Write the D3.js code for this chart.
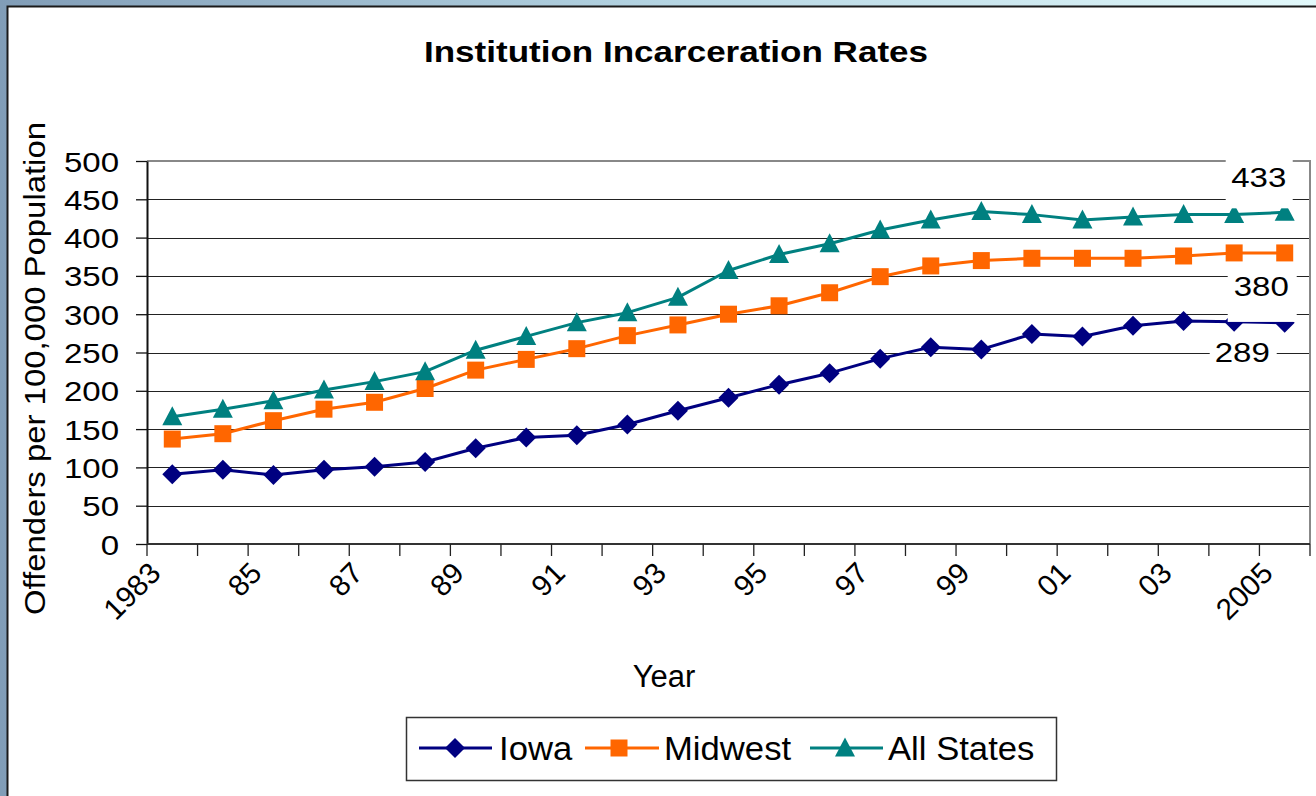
<!DOCTYPE html>
<html>
<head>
<meta charset="utf-8">
<script src="https://cdn.jsdelivr.net/npm/d3@7"></script>
<style>
  html, body { margin: 0; padding: 0; background: #fff; }
  svg { display: block; }
  text { font-family: "Liberation Sans", Arial, Helvetica, sans-serif; fill: #000; }
</style>
</head>
<body>
<svg id="chart" width="1316" height="796"></svg>
<script>
// ---------------- data ----------------
const years = ["1983","1984","1985","1986","1987","1988","1989","1990","1991","1992","1993","1994",
               "1995","1996","1997","1998","1999","2000","2001","2002","2003","2004","2005"];
const xTickLabels = ["1983","85","87","89","91","93","95","97","99","01","03","2005"];
const xTickYears  = ["1983","1985","1987","1989","1991","1993","1995","1997","1999","2001","2003","2005"];
const yTicks = [0,50,100,150,200,250,300,350,400,450,500];

const iowa      = [91, 97, 90, 97, 101, 107, 125, 139, 142, 156, 174, 191, 208, 223, 242, 257, 254, 274, 271, 285, 291, 290, 289];
const midwest   = [137, 144, 161, 176, 185, 203, 227, 241, 255, 272, 286, 300, 311, 328, 349, 363, 370, 373, 373, 373, 376, 380, 380];
const allStates = [166, 176, 187, 201, 212, 225, 253, 271, 289, 302, 322, 357, 378, 392, 410, 423, 434, 430, 423, 427, 430, 430, 433];

const seriesNames = ["Iowa","Midwest","All States"];
const seriesData  = [iowa, midwest, allStates];
const seriesColors = ["#000080","#FF6600","#008080"];
const seriesMarkers = ["diamond","square","triangle"];

// ---------------- layout ----------------
const svg = d3.select("#chart");
const W = 1316, H = 796;
const plot = {left:147, right:1310, top:161, bottom:544};

const x = d3.scaleBand().domain(years).range([plot.left, plot.right]).padding(0);
const y = d3.scaleLinear().domain([0,500]).range([plot.bottom, plot.top]);
const cx = d => x(d) + x.bandwidth()/2;

function stretch(sel, f){
  sel.each(function(){
    const L = this.getComputedTextLength();
    d3.select(this).attr("textLength", L*f).attr("lengthAdjust","spacingAndGlyphs");
  });
}

// background gradient (slide)
const defs = svg.append("defs");
const grad = defs.append("linearGradient").attr("id","bg").attr("x1","0").attr("y1","0").attr("x2","1").attr("y2","0");
grad.append("stop").attr("offset","0%").attr("stop-color","#819db7");
grad.append("stop").attr("offset","50%").attr("stop-color","#b4d4e2");
grad.append("stop").attr("offset","100%").attr("stop-color","#e2f9fb");
svg.append("rect").attr("x",0).attr("y",0).attr("width",W).attr("height",H).attr("fill","url(#bg)");

// chart area
svg.append("rect").attr("x",7.5).attr("y",6.5).attr("width",W+20).attr("height",H+20)
  .attr("fill","#fff").attr("stroke","#1a1a1a").attr("stroke-width",2);

// title
const title = svg.append("text").attr("x",676).attr("y",62).attr("text-anchor","middle")
  .attr("font-size",30).attr("font-weight","bold").text("Institution Incarceration Rates");
title.attr("textLength",504).attr("lengthAdjust","spacingAndGlyphs");

// gridlines
svg.append("g").selectAll("line").data(yTicks.filter(v => v > 0 && v < 500)).join("line")
  .attr("x1",plot.left).attr("x2",plot.right)
  .attr("y1",d => Math.round(y(d))+0.5).attr("y2",d => Math.round(y(d))+0.5)
  .attr("stroke","#222").attr("stroke-width",1.2);

// plot border top & right (gray)
svg.append("path")
  .attr("d",`M${plot.left},${plot.top}H${plot.right}V${plot.bottom}`)
  .attr("fill","none").attr("stroke","#888").attr("stroke-width",2);

// y axis
const yAxis = svg.append("g").attr("transform",`translate(${plot.left},0)`)
  .call(d3.axisLeft(y).tickValues(yTicks).tickSize(11).tickSizeOuter(0).tickPadding(28));
yAxis.select(".domain").attr("stroke","#111").attr("stroke-width",2);
yAxis.selectAll(".tick line").attr("stroke","#111").attr("stroke-width",1.3);
yAxis.selectAll(".tick text").attr("font-size",28).attr("font-family",null).attr("fill","#000")
  .attr("x",-28).attr("dy","0.36em");
stretch(yAxis.selectAll(".tick text"), 1.18);

// x axis line + ticks at category boundaries
const xBounds = years.map(d => x(d)).concat([plot.right]);
svg.append("line").attr("x1",plot.left).attr("x2",plot.right).attr("y1",plot.bottom).attr("y2",plot.bottom)
  .attr("stroke","#333").attr("stroke-width",2);
svg.append("g").selectAll("line").data(xBounds).join("line")
  .attr("x1",d => d).attr("x2",d => d).attr("y1",plot.bottom).attr("y2",plot.bottom+12)
  .attr("stroke","#222").attr("stroke-width",1.3);

// x tick labels (rotated)
svg.append("g").selectAll("text").data(xTickYears).join("text")
  .attr("transform",d => `translate(${cx(d)-10},${plot.bottom+31}) rotate(-45)`)
  .attr("text-anchor","end").attr("font-size",29.5)
  .text((d,i) => xTickLabels[i]);

// axis titles
svg.append("text").attr("x",664).attr("y",687).attr("text-anchor","middle").attr("font-size",31).text("Year");
const ylab = svg.append("text").attr("transform",`translate(44.5,368.5) rotate(-90)`)
  .attr("text-anchor","middle").attr("font-size",30).text("Offenders per 100,000 Population");
ylab.attr("textLength",493).attr("lengthAdjust","spacingAndGlyphs");

// markers
function markerPath(type){
  if(type==="diamond") return "M0,-10L10,0L0,10L-10,0Z";
  if(type==="square") return "M-8.5,-8.5H8.5V8.5H-8.5Z";
  return "M0,-10.5L10,8.5L-10,8.5Z";
}

// series
const line = d3.line().x((d,i) => cx(years[i])).y(d => y(d));
seriesData.forEach((vals, s) => {
  svg.append("path").datum(vals).attr("d",line).attr("fill","none")
    .attr("stroke",seriesColors[s]).attr("stroke-width",3).attr("stroke-linejoin","round");
  svg.append("g").selectAll("path").data(vals).join("path")
    .attr("transform",(d,i) => `translate(${cx(years[i])},${y(d)})`)
    .attr("d",markerPath(seriesMarkers[s])).attr("fill",seriesColors[s]);
});

// data labels on last point (with white boxes)
const lastYear = years[years.length-1];
const lx = cx(lastYear);
const labelSpecs = [
  {vals: allStates, box:[-59, 8, -56, -4], tx:-26, ty:-25.5},
  {vals: midwest,   box:[-57, 12, 12, 69], tx:-23.5, ty:43},
  {vals: iowa,      box:[-75, -8, 10, 50], tx:-42.5, ty:39.5}
];
labelSpecs.forEach(sp => {
  const v = sp.vals[sp.vals.length-1];
  const py = y(v);
  svg.append("rect").attr("x",lx+sp.box[0]).attr("y",py+sp.box[2])
    .attr("width",sp.box[1]-sp.box[0]).attr("height",sp.box[3]-sp.box[2]).attr("fill","#fff");
  const t = svg.append("text").attr("x",lx+sp.tx).attr("y",py+sp.ty).attr("text-anchor","middle")
    .attr("font-size",28).text(v);
  stretch(t, 1.18);
});

// legend
const lg = svg.append("g");
lg.append("rect").attr("x",406.5).attr("y",717.5).attr("width",650).attr("height",63)
  .attr("fill","#fff").attr("stroke","#333").attr("stroke-width",1.5);
const legendItems = [
  {x1:419, x2:492, mx:455, tx:499},
  {x1:585, x2:659, mx:619, tx:664},
  {x1:810, x2:883, mx:845, tx:888}
];
legendItems.forEach((it, s) => {
  lg.append("line").attr("x1",it.x1).attr("x2",it.x2).attr("y1",748).attr("y2",748)
    .attr("stroke",seriesColors[s]).attr("stroke-width",3);
  lg.append("path").attr("transform",`translate(${it.mx},748)`).attr("d",markerPath(seriesMarkers[s]))
    .attr("fill",seriesColors[s]);
  const t = lg.append("text").attr("x",it.tx).attr("y",760).attr("font-size",33).text(seriesNames[s]);
  stretch(t, 1.05);
});
</script>
</body>
</html>
